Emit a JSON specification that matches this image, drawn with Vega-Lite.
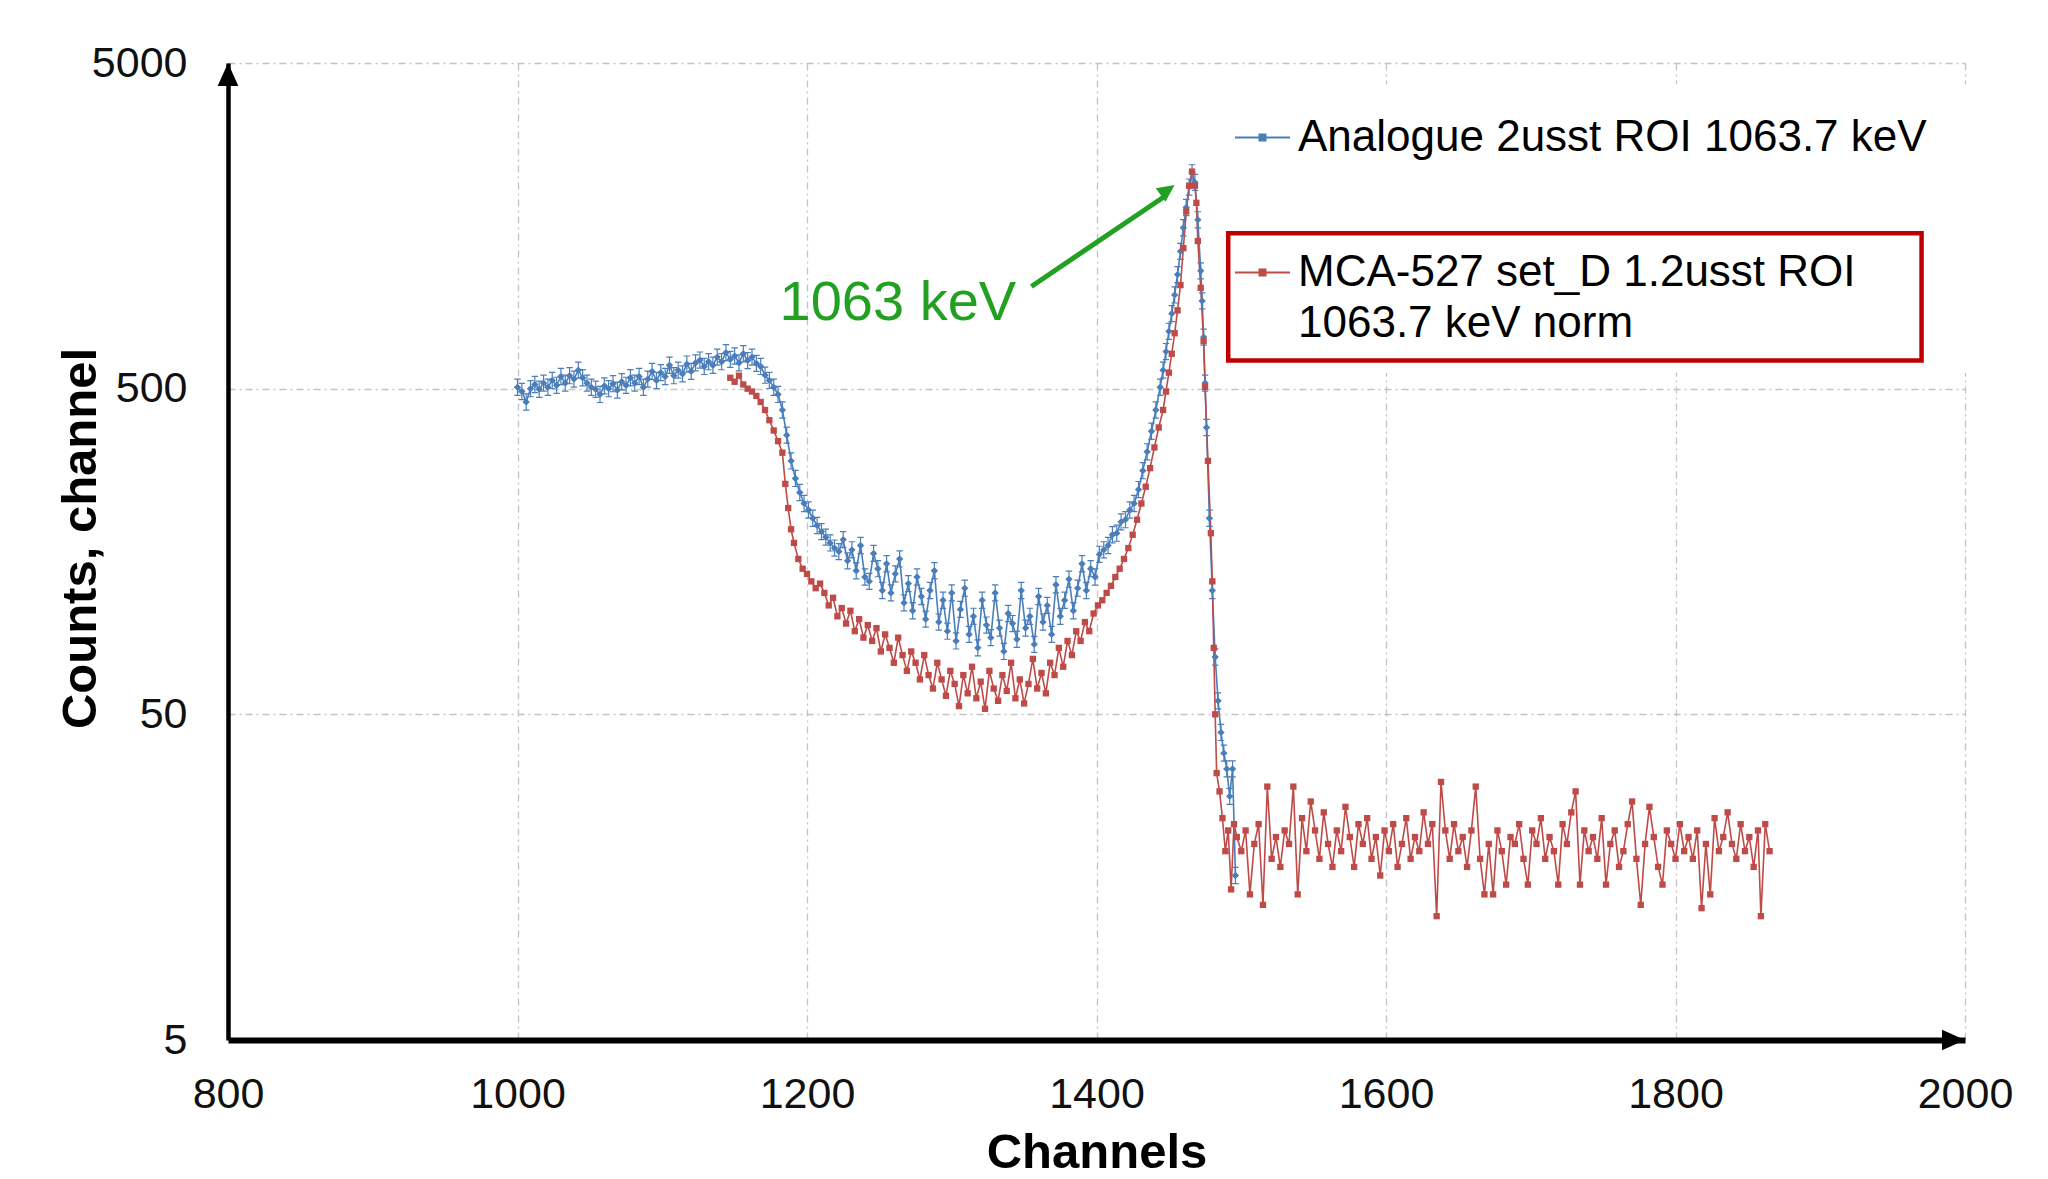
{
"$schema": "https://vega.github.io/schema/vega-lite/v6.json",
"width": 1737, "height": 977,
"autosize": {"type": "none"},
"padding": {"left": 228, "top": 63, "right": 83, "bottom": 139},
"background": "white",
"config": {
  "view": {"stroke": null},
  "font": "Liberation Sans",
  "axis": {"grid": true, "domainColor": "black", "ticks": false, "tickSize": 0, "labelFontSize": 43, "labelColor": "#111111", "labelFont": "Liberation Sans", "titleFont": "Liberation Sans", "titleFontSize": 49, "titleFontWeight": "bold", "titleColor": "black", "gridColor": "#C4C4C4", "gridDash": [7, 4, 2, 4], "gridWidth": 1.3, "labelOverlap": false, "labelFlush": false, "labelBound": false}
},
"datasets": {
  "spectra": [
{"series":"Analogue 2usst ROI 1063.7 keV","channel":1000,"counts":505},
{"series":"Analogue 2usst ROI 1063.7 keV","channel":1003,"counts":490},
{"series":"Analogue 2usst ROI 1063.7 keV","channel":1006,"counts":455},
{"series":"Analogue 2usst ROI 1063.7 keV","channel":1009,"counts":500},
{"series":"Analogue 2usst ROI 1063.7 keV","channel":1012,"counts":515},
{"series":"Analogue 2usst ROI 1063.7 keV","channel":1015,"counts":498},
{"series":"Analogue 2usst ROI 1063.7 keV","channel":1018,"counts":520},
{"series":"Analogue 2usst ROI 1063.7 keV","channel":1021,"counts":505},
{"series":"Analogue 2usst ROI 1063.7 keV","channel":1024,"counts":530},
{"series":"Analogue 2usst ROI 1063.7 keV","channel":1027,"counts":512},
{"series":"Analogue 2usst ROI 1063.7 keV","channel":1030,"counts":545},
{"series":"Analogue 2usst ROI 1063.7 keV","channel":1033,"counts":520},
{"series":"Analogue 2usst ROI 1063.7 keV","channel":1036,"counts":548},
{"series":"Analogue 2usst ROI 1063.7 keV","channel":1039,"counts":535},
{"series":"Analogue 2usst ROI 1063.7 keV","channel":1042,"counts":570},
{"series":"Analogue 2usst ROI 1063.7 keV","channel":1045,"counts":540},
{"series":"Analogue 2usst ROI 1063.7 keV","channel":1048,"counts":520},
{"series":"Analogue 2usst ROI 1063.7 keV","channel":1051,"counts":505},
{"series":"Analogue 2usst ROI 1063.7 keV","channel":1054,"counts":498},
{"series":"Analogue 2usst ROI 1063.7 keV","channel":1057,"counts":480},
{"series":"Analogue 2usst ROI 1063.7 keV","channel":1060,"counts":510},
{"series":"Analogue 2usst ROI 1063.7 keV","channel":1063,"counts":500},
{"series":"Analogue 2usst ROI 1063.7 keV","channel":1066,"counts":518},
{"series":"Analogue 2usst ROI 1063.7 keV","channel":1069,"counts":495},
{"series":"Analogue 2usst ROI 1063.7 keV","channel":1072,"counts":525},
{"series":"Analogue 2usst ROI 1063.7 keV","channel":1075,"counts":512},
{"series":"Analogue 2usst ROI 1063.7 keV","channel":1078,"counts":540},
{"series":"Analogue 2usst ROI 1063.7 keV","channel":1081,"counts":520},
{"series":"Analogue 2usst ROI 1063.7 keV","channel":1084,"counts":545},
{"series":"Analogue 2usst ROI 1063.7 keV","channel":1087,"counts":505},
{"series":"Analogue 2usst ROI 1063.7 keV","channel":1090,"counts":535},
{"series":"Analogue 2usst ROI 1063.7 keV","channel":1093,"counts":565},
{"series":"Analogue 2usst ROI 1063.7 keV","channel":1096,"counts":530},
{"series":"Analogue 2usst ROI 1063.7 keV","channel":1099,"counts":560},
{"series":"Analogue 2usst ROI 1063.7 keV","channel":1102,"counts":545},
{"series":"Analogue 2usst ROI 1063.7 keV","channel":1105,"counts":590},
{"series":"Analogue 2usst ROI 1063.7 keV","channel":1108,"counts":548},
{"series":"Analogue 2usst ROI 1063.7 keV","channel":1111,"counts":570},
{"series":"Analogue 2usst ROI 1063.7 keV","channel":1114,"counts":555},
{"series":"Analogue 2usst ROI 1063.7 keV","channel":1117,"counts":595},
{"series":"Analogue 2usst ROI 1063.7 keV","channel":1120,"counts":565},
{"series":"Analogue 2usst ROI 1063.7 keV","channel":1123,"counts":600},
{"series":"Analogue 2usst ROI 1063.7 keV","channel":1126,"counts":612},
{"series":"Analogue 2usst ROI 1063.7 keV","channel":1129,"counts":585},
{"series":"Analogue 2usst ROI 1063.7 keV","channel":1132,"counts":605},
{"series":"Analogue 2usst ROI 1063.7 keV","channel":1135,"counts":590},
{"series":"Analogue 2usst ROI 1063.7 keV","channel":1138,"counts":625},
{"series":"Analogue 2usst ROI 1063.7 keV","channel":1141,"counts":605},
{"series":"Analogue 2usst ROI 1063.7 keV","channel":1144,"counts":645},
{"series":"Analogue 2usst ROI 1063.7 keV","channel":1147,"counts":615},
{"series":"Analogue 2usst ROI 1063.7 keV","channel":1150,"counts":630},
{"series":"Analogue 2usst ROI 1063.7 keV","channel":1153,"counts":600},
{"series":"Analogue 2usst ROI 1063.7 keV","channel":1156,"counts":640},
{"series":"Analogue 2usst ROI 1063.7 keV","channel":1159,"counts":610},
{"series":"Analogue 2usst ROI 1063.7 keV","channel":1162,"counts":625},
{"series":"Analogue 2usst ROI 1063.7 keV","channel":1165,"counts":598},
{"series":"Analogue 2usst ROI 1063.7 keV","channel":1168,"counts":585},
{"series":"Analogue 2usst ROI 1063.7 keV","channel":1171,"counts":550},
{"series":"Analogue 2usst ROI 1063.7 keV","channel":1174,"counts":530},
{"series":"Analogue 2usst ROI 1063.7 keV","channel":1177,"counts":505},
{"series":"Analogue 2usst ROI 1063.7 keV","channel":1180,"counts":480},
{"series":"Analogue 2usst ROI 1063.7 keV","channel":1183,"counts":430},
{"series":"Analogue 2usst ROI 1063.7 keV","channel":1186,"counts":360},
{"series":"Analogue 2usst ROI 1063.7 keV","channel":1189,"counts":300},
{"series":"Analogue 2usst ROI 1063.7 keV","channel":1192,"counts":265},
{"series":"Analogue 2usst ROI 1063.7 keV","channel":1195,"counts":240},
{"series":"Analogue 2usst ROI 1063.7 keV","channel":1198,"counts":222},
{"series":"Analogue 2usst ROI 1063.7 keV","channel":1201,"counts":212},
{"series":"Analogue 2usst ROI 1063.7 keV","channel":1204,"counts":200},
{"series":"Analogue 2usst ROI 1063.7 keV","channel":1207,"counts":190},
{"series":"Analogue 2usst ROI 1063.7 keV","channel":1210,"counts":182},
{"series":"Analogue 2usst ROI 1063.7 keV","channel":1213,"counts":175},
{"series":"Analogue 2usst ROI 1063.7 keV","channel":1216,"counts":168},
{"series":"Analogue 2usst ROI 1063.7 keV","channel":1219,"counts":162},
{"series":"Analogue 2usst ROI 1063.7 keV","channel":1222,"counts":158},
{"series":"Analogue 2usst ROI 1063.7 keV","channel":1225,"counts":172},
{"series":"Analogue 2usst ROI 1063.7 keV","channel":1228,"counts":148},
{"series":"Analogue 2usst ROI 1063.7 keV","channel":1231,"counts":160},
{"series":"Analogue 2usst ROI 1063.7 keV","channel":1234,"counts":138},
{"series":"Analogue 2usst ROI 1063.7 keV","channel":1237,"counts":165},
{"series":"Analogue 2usst ROI 1063.7 keV","channel":1240,"counts":132},
{"series":"Analogue 2usst ROI 1063.7 keV","channel":1243,"counts":128},
{"series":"Analogue 2usst ROI 1063.7 keV","channel":1246,"counts":156},
{"series":"Analogue 2usst ROI 1063.7 keV","channel":1249,"counts":140},
{"series":"Analogue 2usst ROI 1063.7 keV","channel":1252,"counts":120},
{"series":"Analogue 2usst ROI 1063.7 keV","channel":1255,"counts":145},
{"series":"Analogue 2usst ROI 1063.7 keV","channel":1258,"counts":118},
{"series":"Analogue 2usst ROI 1063.7 keV","channel":1261,"counts":135},
{"series":"Analogue 2usst ROI 1063.7 keV","channel":1264,"counts":150},
{"series":"Analogue 2usst ROI 1063.7 keV","channel":1267,"counts":110},
{"series":"Analogue 2usst ROI 1063.7 keV","channel":1270,"counts":126},
{"series":"Analogue 2usst ROI 1063.7 keV","channel":1273,"counts":104},
{"series":"Analogue 2usst ROI 1063.7 keV","channel":1276,"counts":132},
{"series":"Analogue 2usst ROI 1063.7 keV","channel":1279,"counts":115},
{"series":"Analogue 2usst ROI 1063.7 keV","channel":1282,"counts":98},
{"series":"Analogue 2usst ROI 1063.7 keV","channel":1285,"counts":120},
{"series":"Analogue 2usst ROI 1063.7 keV","channel":1288,"counts":138},
{"series":"Analogue 2usst ROI 1063.7 keV","channel":1291,"counts":96},
{"series":"Analogue 2usst ROI 1063.7 keV","channel":1294,"counts":112},
{"series":"Analogue 2usst ROI 1063.7 keV","channel":1297,"counts":90},
{"series":"Analogue 2usst ROI 1063.7 keV","channel":1300,"counts":118},
{"series":"Analogue 2usst ROI 1063.7 keV","channel":1303,"counts":84},
{"series":"Analogue 2usst ROI 1063.7 keV","channel":1306,"counts":105},
{"series":"Analogue 2usst ROI 1063.7 keV","channel":1309,"counts":122},
{"series":"Analogue 2usst ROI 1063.7 keV","channel":1312,"counts":88},
{"series":"Analogue 2usst ROI 1063.7 keV","channel":1315,"counts":100},
{"series":"Analogue 2usst ROI 1063.7 keV","channel":1318,"counts":80},
{"series":"Analogue 2usst ROI 1063.7 keV","channel":1321,"counts":112},
{"series":"Analogue 2usst ROI 1063.7 keV","channel":1324,"counts":94},
{"series":"Analogue 2usst ROI 1063.7 keV","channel":1327,"counts":86},
{"series":"Analogue 2usst ROI 1063.7 keV","channel":1330,"counts":118},
{"series":"Analogue 2usst ROI 1063.7 keV","channel":1333,"counts":92},
{"series":"Analogue 2usst ROI 1063.7 keV","channel":1336,"counts":78},
{"series":"Analogue 2usst ROI 1063.7 keV","channel":1339,"counts":102},
{"series":"Analogue 2usst ROI 1063.7 keV","channel":1342,"counts":95},
{"series":"Analogue 2usst ROI 1063.7 keV","channel":1345,"counts":85},
{"series":"Analogue 2usst ROI 1063.7 keV","channel":1348,"counts":120},
{"series":"Analogue 2usst ROI 1063.7 keV","channel":1351,"counts":92},
{"series":"Analogue 2usst ROI 1063.7 keV","channel":1354,"counts":100},
{"series":"Analogue 2usst ROI 1063.7 keV","channel":1357,"counts":82},
{"series":"Analogue 2usst ROI 1063.7 keV","channel":1360,"counts":115},
{"series":"Analogue 2usst ROI 1063.7 keV","channel":1363,"counts":96},
{"series":"Analogue 2usst ROI 1063.7 keV","channel":1366,"counts":108},
{"series":"Analogue 2usst ROI 1063.7 keV","channel":1369,"counts":88},
{"series":"Analogue 2usst ROI 1063.7 keV","channel":1372,"counts":125},
{"series":"Analogue 2usst ROI 1063.7 keV","channel":1375,"counts":100},
{"series":"Analogue 2usst ROI 1063.7 keV","channel":1378,"counts":112},
{"series":"Analogue 2usst ROI 1063.7 keV","channel":1381,"counts":130},
{"series":"Analogue 2usst ROI 1063.7 keV","channel":1384,"counts":104},
{"series":"Analogue 2usst ROI 1063.7 keV","channel":1387,"counts":122},
{"series":"Analogue 2usst ROI 1063.7 keV","channel":1390,"counts":145},
{"series":"Analogue 2usst ROI 1063.7 keV","channel":1393,"counts":120},
{"series":"Analogue 2usst ROI 1063.7 keV","channel":1396,"counts":140},
{"series":"Analogue 2usst ROI 1063.7 keV","channel":1399,"counts":132},
{"series":"Analogue 2usst ROI 1063.7 keV","channel":1402,"counts":155},
{"series":"Analogue 2usst ROI 1063.7 keV","channel":1405,"counts":160},
{"series":"Analogue 2usst ROI 1063.7 keV","channel":1408,"counts":165},
{"series":"Analogue 2usst ROI 1063.7 keV","channel":1411,"counts":178},
{"series":"Analogue 2usst ROI 1063.7 keV","channel":1414,"counts":180},
{"series":"Analogue 2usst ROI 1063.7 keV","channel":1417,"counts":195},
{"series":"Analogue 2usst ROI 1063.7 keV","channel":1420,"counts":198},
{"series":"Analogue 2usst ROI 1063.7 keV","channel":1423,"counts":212},
{"series":"Analogue 2usst ROI 1063.7 keV","channel":1426,"counts":222},
{"series":"Analogue 2usst ROI 1063.7 keV","channel":1429,"counts":245},
{"series":"Analogue 2usst ROI 1063.7 keV","channel":1432,"counts":280},
{"series":"Analogue 2usst ROI 1063.7 keV","channel":1435,"counts":320},
{"series":"Analogue 2usst ROI 1063.7 keV","channel":1438,"counts":370},
{"series":"Analogue 2usst ROI 1063.7 keV","channel":1441,"counts":430},
{"series":"Analogue 2usst ROI 1063.7 keV","channel":1444,"counts":505},
{"series":"Analogue 2usst ROI 1063.7 keV","channel":1446,"counts":570},
{"series":"Analogue 2usst ROI 1063.7 keV","channel":1448,"counts":650},
{"series":"Analogue 2usst ROI 1063.7 keV","channel":1450,"counts":750},
{"series":"Analogue 2usst ROI 1063.7 keV","channel":1452,"counts":850},
{"series":"Analogue 2usst ROI 1063.7 keV","channel":1454,"counts":970},
{"series":"Analogue 2usst ROI 1063.7 keV","channel":1456,"counts":1120},
{"series":"Analogue 2usst ROI 1063.7 keV","channel":1458,"counts":1320},
{"series":"Analogue 2usst ROI 1063.7 keV","channel":1460,"counts":1560},
{"series":"Analogue 2usst ROI 1063.7 keV","channel":1462,"counts":1800},
{"series":"Analogue 2usst ROI 1063.7 keV","channel":1464,"counts":2080},
{"series":"Analogue 2usst ROI 1063.7 keV","channel":1466,"counts":2300},
{"series":"Analogue 2usst ROI 1063.7 keV","channel":1468,"counts":2150},
{"series":"Analogue 2usst ROI 1063.7 keV","channel":1470,"counts":1650},
{"series":"Analogue 2usst ROI 1063.7 keV","channel":1472,"counts":1150},
{"series":"Analogue 2usst ROI 1063.7 keV","channel":1473,"counts":930},
{"series":"Analogue 2usst ROI 1063.7 keV","channel":1474,"counts":720},
{"series":"Analogue 2usst ROI 1063.7 keV","channel":1475,"counts":520},
{"series":"Analogue 2usst ROI 1063.7 keV","channel":1476,"counts":380},
{"series":"Analogue 2usst ROI 1063.7 keV","channel":1478,"counts":200},
{"series":"Analogue 2usst ROI 1063.7 keV","channel":1480,"counts":120},
{"series":"Analogue 2usst ROI 1063.7 keV","channel":1482,"counts":75},
{"series":"Analogue 2usst ROI 1063.7 keV","channel":1484,"counts":55},
{"series":"Analogue 2usst ROI 1063.7 keV","channel":1486,"counts":44},
{"series":"Analogue 2usst ROI 1063.7 keV","channel":1488,"counts":38},
{"series":"Analogue 2usst ROI 1063.7 keV","channel":1490,"counts":34},
{"series":"Analogue 2usst ROI 1063.7 keV","channel":1492,"counts":28},
{"series":"Analogue 2usst ROI 1063.7 keV","channel":1494,"counts":34},
{"series":"Analogue 2usst ROI 1063.7 keV","channel":1496,"counts":16},
{"series":"MCA-527 set_D 1.2usst ROI 1063.7 keV norm","channel":1147,"counts":540},
{"series":"MCA-527 set_D 1.2usst ROI 1063.7 keV norm","channel":1150,"counts":525},
{"series":"MCA-527 set_D 1.2usst ROI 1063.7 keV norm","channel":1153,"counts":548},
{"series":"MCA-527 set_D 1.2usst ROI 1063.7 keV norm","channel":1156,"counts":515},
{"series":"MCA-527 set_D 1.2usst ROI 1063.7 keV norm","channel":1159,"counts":500},
{"series":"MCA-527 set_D 1.2usst ROI 1063.7 keV norm","channel":1162,"counts":490},
{"series":"MCA-527 set_D 1.2usst ROI 1063.7 keV norm","channel":1165,"counts":475},
{"series":"MCA-527 set_D 1.2usst ROI 1063.7 keV norm","channel":1168,"counts":455},
{"series":"MCA-527 set_D 1.2usst ROI 1063.7 keV norm","channel":1171,"counts":430},
{"series":"MCA-527 set_D 1.2usst ROI 1063.7 keV norm","channel":1174,"counts":400},
{"series":"MCA-527 set_D 1.2usst ROI 1063.7 keV norm","channel":1177,"counts":372},
{"series":"MCA-527 set_D 1.2usst ROI 1063.7 keV norm","channel":1180,"counts":345},
{"series":"MCA-527 set_D 1.2usst ROI 1063.7 keV norm","channel":1183,"counts":318},
{"series":"MCA-527 set_D 1.2usst ROI 1063.7 keV norm","channel":1185,"counts":255},
{"series":"MCA-527 set_D 1.2usst ROI 1063.7 keV norm","channel":1187,"counts":215},
{"series":"MCA-527 set_D 1.2usst ROI 1063.7 keV norm","channel":1189,"counts":185},
{"series":"MCA-527 set_D 1.2usst ROI 1063.7 keV norm","channel":1191,"counts":168},
{"series":"MCA-527 set_D 1.2usst ROI 1063.7 keV norm","channel":1194,"counts":150},
{"series":"MCA-527 set_D 1.2usst ROI 1063.7 keV norm","channel":1197,"counts":140},
{"series":"MCA-527 set_D 1.2usst ROI 1063.7 keV norm","channel":1200,"counts":135},
{"series":"MCA-527 set_D 1.2usst ROI 1063.7 keV norm","channel":1203,"counts":128},
{"series":"MCA-527 set_D 1.2usst ROI 1063.7 keV norm","channel":1206,"counts":122},
{"series":"MCA-527 set_D 1.2usst ROI 1063.7 keV norm","channel":1209,"counts":126},
{"series":"MCA-527 set_D 1.2usst ROI 1063.7 keV norm","channel":1212,"counts":118},
{"series":"MCA-527 set_D 1.2usst ROI 1063.7 keV norm","channel":1215,"counts":108},
{"series":"MCA-527 set_D 1.2usst ROI 1063.7 keV norm","channel":1218,"counts":114},
{"series":"MCA-527 set_D 1.2usst ROI 1063.7 keV norm","channel":1221,"counts":100},
{"series":"MCA-527 set_D 1.2usst ROI 1063.7 keV norm","channel":1224,"counts":106},
{"series":"MCA-527 set_D 1.2usst ROI 1063.7 keV norm","channel":1227,"counts":95},
{"series":"MCA-527 set_D 1.2usst ROI 1063.7 keV norm","channel":1230,"counts":104},
{"series":"MCA-527 set_D 1.2usst ROI 1063.7 keV norm","channel":1233,"counts":90},
{"series":"MCA-527 set_D 1.2usst ROI 1063.7 keV norm","channel":1236,"counts":98},
{"series":"MCA-527 set_D 1.2usst ROI 1063.7 keV norm","channel":1239,"counts":86},
{"series":"MCA-527 set_D 1.2usst ROI 1063.7 keV norm","channel":1242,"counts":94},
{"series":"MCA-527 set_D 1.2usst ROI 1063.7 keV norm","channel":1245,"counts":84},
{"series":"MCA-527 set_D 1.2usst ROI 1063.7 keV norm","channel":1248,"counts":92},
{"series":"MCA-527 set_D 1.2usst ROI 1063.7 keV norm","channel":1251,"counts":78},
{"series":"MCA-527 set_D 1.2usst ROI 1063.7 keV norm","channel":1254,"counts":88},
{"series":"MCA-527 set_D 1.2usst ROI 1063.7 keV norm","channel":1257,"counts":80},
{"series":"MCA-527 set_D 1.2usst ROI 1063.7 keV norm","channel":1260,"counts":72},
{"series":"MCA-527 set_D 1.2usst ROI 1063.7 keV norm","channel":1263,"counts":86},
{"series":"MCA-527 set_D 1.2usst ROI 1063.7 keV norm","channel":1266,"counts":76},
{"series":"MCA-527 set_D 1.2usst ROI 1063.7 keV norm","channel":1269,"counts":68},
{"series":"MCA-527 set_D 1.2usst ROI 1063.7 keV norm","channel":1272,"counts":78},
{"series":"MCA-527 set_D 1.2usst ROI 1063.7 keV norm","channel":1275,"counts":72},
{"series":"MCA-527 set_D 1.2usst ROI 1063.7 keV norm","channel":1278,"counts":64},
{"series":"MCA-527 set_D 1.2usst ROI 1063.7 keV norm","channel":1281,"counts":76},
{"series":"MCA-527 set_D 1.2usst ROI 1063.7 keV norm","channel":1284,"counts":66},
{"series":"MCA-527 set_D 1.2usst ROI 1063.7 keV norm","channel":1287,"counts":60},
{"series":"MCA-527 set_D 1.2usst ROI 1063.7 keV norm","channel":1290,"counts":72},
{"series":"MCA-527 set_D 1.2usst ROI 1063.7 keV norm","channel":1293,"counts":64},
{"series":"MCA-527 set_D 1.2usst ROI 1063.7 keV norm","channel":1296,"counts":57},
{"series":"MCA-527 set_D 1.2usst ROI 1063.7 keV norm","channel":1299,"counts":68},
{"series":"MCA-527 set_D 1.2usst ROI 1063.7 keV norm","channel":1302,"counts":62},
{"series":"MCA-527 set_D 1.2usst ROI 1063.7 keV norm","channel":1305,"counts":53},
{"series":"MCA-527 set_D 1.2usst ROI 1063.7 keV norm","channel":1308,"counts":66},
{"series":"MCA-527 set_D 1.2usst ROI 1063.7 keV norm","channel":1311,"counts":58},
{"series":"MCA-527 set_D 1.2usst ROI 1063.7 keV norm","channel":1314,"counts":70},
{"series":"MCA-527 set_D 1.2usst ROI 1063.7 keV norm","channel":1317,"counts":56},
{"series":"MCA-527 set_D 1.2usst ROI 1063.7 keV norm","channel":1320,"counts":63},
{"series":"MCA-527 set_D 1.2usst ROI 1063.7 keV norm","channel":1323,"counts":52},
{"series":"MCA-527 set_D 1.2usst ROI 1063.7 keV norm","channel":1326,"counts":68},
{"series":"MCA-527 set_D 1.2usst ROI 1063.7 keV norm","channel":1329,"counts":60},
{"series":"MCA-527 set_D 1.2usst ROI 1063.7 keV norm","channel":1332,"counts":55},
{"series":"MCA-527 set_D 1.2usst ROI 1063.7 keV norm","channel":1335,"counts":66},
{"series":"MCA-527 set_D 1.2usst ROI 1063.7 keV norm","channel":1338,"counts":59},
{"series":"MCA-527 set_D 1.2usst ROI 1063.7 keV norm","channel":1341,"counts":72},
{"series":"MCA-527 set_D 1.2usst ROI 1063.7 keV norm","channel":1344,"counts":56},
{"series":"MCA-527 set_D 1.2usst ROI 1063.7 keV norm","channel":1347,"counts":64},
{"series":"MCA-527 set_D 1.2usst ROI 1063.7 keV norm","channel":1350,"counts":54},
{"series":"MCA-527 set_D 1.2usst ROI 1063.7 keV norm","channel":1353,"counts":62},
{"series":"MCA-527 set_D 1.2usst ROI 1063.7 keV norm","channel":1356,"counts":74},
{"series":"MCA-527 set_D 1.2usst ROI 1063.7 keV norm","channel":1359,"counts":60},
{"series":"MCA-527 set_D 1.2usst ROI 1063.7 keV norm","channel":1362,"counts":67},
{"series":"MCA-527 set_D 1.2usst ROI 1063.7 keV norm","channel":1365,"counts":58},
{"series":"MCA-527 set_D 1.2usst ROI 1063.7 keV norm","channel":1368,"counts":72},
{"series":"MCA-527 set_D 1.2usst ROI 1063.7 keV norm","channel":1371,"counts":66},
{"series":"MCA-527 set_D 1.2usst ROI 1063.7 keV norm","channel":1374,"counts":80},
{"series":"MCA-527 set_D 1.2usst ROI 1063.7 keV norm","channel":1377,"counts":70},
{"series":"MCA-527 set_D 1.2usst ROI 1063.7 keV norm","channel":1380,"counts":84},
{"series":"MCA-527 set_D 1.2usst ROI 1063.7 keV norm","channel":1383,"counts":76},
{"series":"MCA-527 set_D 1.2usst ROI 1063.7 keV norm","channel":1386,"counts":90},
{"series":"MCA-527 set_D 1.2usst ROI 1063.7 keV norm","channel":1389,"counts":84},
{"series":"MCA-527 set_D 1.2usst ROI 1063.7 keV norm","channel":1392,"counts":96},
{"series":"MCA-527 set_D 1.2usst ROI 1063.7 keV norm","channel":1395,"counts":90},
{"series":"MCA-527 set_D 1.2usst ROI 1063.7 keV norm","channel":1398,"counts":102},
{"series":"MCA-527 set_D 1.2usst ROI 1063.7 keV norm","channel":1401,"counts":108},
{"series":"MCA-527 set_D 1.2usst ROI 1063.7 keV norm","channel":1404,"counts":112},
{"series":"MCA-527 set_D 1.2usst ROI 1063.7 keV norm","channel":1407,"counts":118},
{"series":"MCA-527 set_D 1.2usst ROI 1063.7 keV norm","channel":1410,"counts":124},
{"series":"MCA-527 set_D 1.2usst ROI 1063.7 keV norm","channel":1413,"counts":132},
{"series":"MCA-527 set_D 1.2usst ROI 1063.7 keV norm","channel":1416,"counts":140},
{"series":"MCA-527 set_D 1.2usst ROI 1063.7 keV norm","channel":1419,"counts":150},
{"series":"MCA-527 set_D 1.2usst ROI 1063.7 keV norm","channel":1422,"counts":162},
{"series":"MCA-527 set_D 1.2usst ROI 1063.7 keV norm","channel":1425,"counts":178},
{"series":"MCA-527 set_D 1.2usst ROI 1063.7 keV norm","channel":1428,"counts":198},
{"series":"MCA-527 set_D 1.2usst ROI 1063.7 keV norm","channel":1431,"counts":222},
{"series":"MCA-527 set_D 1.2usst ROI 1063.7 keV norm","channel":1434,"counts":250},
{"series":"MCA-527 set_D 1.2usst ROI 1063.7 keV norm","channel":1437,"counts":285},
{"series":"MCA-527 set_D 1.2usst ROI 1063.7 keV norm","channel":1440,"counts":330},
{"series":"MCA-527 set_D 1.2usst ROI 1063.7 keV norm","channel":1443,"counts":380},
{"series":"MCA-527 set_D 1.2usst ROI 1063.7 keV norm","channel":1446,"counts":430},
{"series":"MCA-527 set_D 1.2usst ROI 1063.7 keV norm","channel":1448,"counts":490},
{"series":"MCA-527 set_D 1.2usst ROI 1063.7 keV norm","channel":1450,"counts":560},
{"series":"MCA-527 set_D 1.2usst ROI 1063.7 keV norm","channel":1452,"counts":640},
{"series":"MCA-527 set_D 1.2usst ROI 1063.7 keV norm","channel":1454,"counts":740},
{"series":"MCA-527 set_D 1.2usst ROI 1063.7 keV norm","channel":1456,"counts":870},
{"series":"MCA-527 set_D 1.2usst ROI 1063.7 keV norm","channel":1458,"counts":1040},
{"series":"MCA-527 set_D 1.2usst ROI 1063.7 keV norm","channel":1460,"counts":1350},
{"series":"MCA-527 set_D 1.2usst ROI 1063.7 keV norm","channel":1462,"counts":1750},
{"series":"MCA-527 set_D 1.2usst ROI 1063.7 keV norm","channel":1464,"counts":2100},
{"series":"MCA-527 set_D 1.2usst ROI 1063.7 keV norm","channel":1466,"counts":2320},
{"series":"MCA-527 set_D 1.2usst ROI 1063.7 keV norm","channel":1468,"counts":2100},
{"series":"MCA-527 set_D 1.2usst ROI 1063.7 keV norm","channel":1469,"counts":1860},
{"series":"MCA-527 set_D 1.2usst ROI 1063.7 keV norm","channel":1470,"counts":1420},
{"series":"MCA-527 set_D 1.2usst ROI 1063.7 keV norm","channel":1472,"counts":1020},
{"series":"MCA-527 set_D 1.2usst ROI 1063.7 keV norm","channel":1474,"counts":700},
{"series":"MCA-527 set_D 1.2usst ROI 1063.7 keV norm","channel":1475,"counts":506},
{"series":"MCA-527 set_D 1.2usst ROI 1063.7 keV norm","channel":1477,"counts":300},
{"series":"MCA-527 set_D 1.2usst ROI 1063.7 keV norm","channel":1479,"counts":180},
{"series":"MCA-527 set_D 1.2usst ROI 1063.7 keV norm","channel":1480,"counts":128},
{"series":"MCA-527 set_D 1.2usst ROI 1063.7 keV norm","channel":1481,"counts":80},
{"series":"MCA-527 set_D 1.2usst ROI 1063.7 keV norm","channel":1482,"counts":50},
{"series":"MCA-527 set_D 1.2usst ROI 1063.7 keV norm","channel":1483,"counts":33},
{"series":"MCA-527 set_D 1.2usst ROI 1063.7 keV norm","channel":1485,"counts":29},
{"series":"MCA-527 set_D 1.2usst ROI 1063.7 keV norm","channel":1487,"counts":24},
{"series":"MCA-527 set_D 1.2usst ROI 1063.7 keV norm","channel":1489,"counts":19},
{"series":"MCA-527 set_D 1.2usst ROI 1063.7 keV norm","channel":1491,"counts":22},
{"series":"MCA-527 set_D 1.2usst ROI 1063.7 keV norm","channel":1493,"counts":14.5},
{"series":"MCA-527 set_D 1.2usst ROI 1063.7 keV norm","channel":1495,"counts":23},
{"series":"MCA-527 set_D 1.2usst ROI 1063.7 keV norm","channel":1497,"counts":21},
{"series":"MCA-527 set_D 1.2usst ROI 1063.7 keV norm","channel":1500,"counts":19},
{"series":"MCA-527 set_D 1.2usst ROI 1063.7 keV norm","channel":1503,"counts":22},
{"series":"MCA-527 set_D 1.2usst ROI 1063.7 keV norm","channel":1506,"counts":14},
{"series":"MCA-527 set_D 1.2usst ROI 1063.7 keV norm","channel":1509,"counts":20},
{"series":"MCA-527 set_D 1.2usst ROI 1063.7 keV norm","channel":1512,"counts":23},
{"series":"MCA-527 set_D 1.2usst ROI 1063.7 keV norm","channel":1515,"counts":13},
{"series":"MCA-527 set_D 1.2usst ROI 1063.7 keV norm","channel":1518,"counts":30},
{"series":"MCA-527 set_D 1.2usst ROI 1063.7 keV norm","channel":1521,"counts":18},
{"series":"MCA-527 set_D 1.2usst ROI 1063.7 keV norm","channel":1524,"counts":21},
{"series":"MCA-527 set_D 1.2usst ROI 1063.7 keV norm","channel":1527,"counts":17},
{"series":"MCA-527 set_D 1.2usst ROI 1063.7 keV norm","channel":1530,"counts":22},
{"series":"MCA-527 set_D 1.2usst ROI 1063.7 keV norm","channel":1533,"counts":20},
{"series":"MCA-527 set_D 1.2usst ROI 1063.7 keV norm","channel":1536,"counts":30},
{"series":"MCA-527 set_D 1.2usst ROI 1063.7 keV norm","channel":1539,"counts":14},
{"series":"MCA-527 set_D 1.2usst ROI 1063.7 keV norm","channel":1542,"counts":24},
{"series":"MCA-527 set_D 1.2usst ROI 1063.7 keV norm","channel":1545,"counts":19},
{"series":"MCA-527 set_D 1.2usst ROI 1063.7 keV norm","channel":1548,"counts":27},
{"series":"MCA-527 set_D 1.2usst ROI 1063.7 keV norm","channel":1551,"counts":22},
{"series":"MCA-527 set_D 1.2usst ROI 1063.7 keV norm","channel":1554,"counts":18},
{"series":"MCA-527 set_D 1.2usst ROI 1063.7 keV norm","channel":1557,"counts":25},
{"series":"MCA-527 set_D 1.2usst ROI 1063.7 keV norm","channel":1560,"counts":20},
{"series":"MCA-527 set_D 1.2usst ROI 1063.7 keV norm","channel":1563,"counts":17},
{"series":"MCA-527 set_D 1.2usst ROI 1063.7 keV norm","channel":1566,"counts":22},
{"series":"MCA-527 set_D 1.2usst ROI 1063.7 keV norm","channel":1569,"counts":19},
{"series":"MCA-527 set_D 1.2usst ROI 1063.7 keV norm","channel":1572,"counts":26},
{"series":"MCA-527 set_D 1.2usst ROI 1063.7 keV norm","channel":1575,"counts":21},
{"series":"MCA-527 set_D 1.2usst ROI 1063.7 keV norm","channel":1578,"counts":17},
{"series":"MCA-527 set_D 1.2usst ROI 1063.7 keV norm","channel":1581,"counts":23},
{"series":"MCA-527 set_D 1.2usst ROI 1063.7 keV norm","channel":1584,"counts":20},
{"series":"MCA-527 set_D 1.2usst ROI 1063.7 keV norm","channel":1587,"counts":24},
{"series":"MCA-527 set_D 1.2usst ROI 1063.7 keV norm","channel":1590,"counts":18},
{"series":"MCA-527 set_D 1.2usst ROI 1063.7 keV norm","channel":1593,"counts":21},
{"series":"MCA-527 set_D 1.2usst ROI 1063.7 keV norm","channel":1596,"counts":16},
{"series":"MCA-527 set_D 1.2usst ROI 1063.7 keV norm","channel":1599,"counts":22},
{"series":"MCA-527 set_D 1.2usst ROI 1063.7 keV norm","channel":1602,"counts":19},
{"series":"MCA-527 set_D 1.2usst ROI 1063.7 keV norm","channel":1605,"counts":23},
{"series":"MCA-527 set_D 1.2usst ROI 1063.7 keV norm","channel":1608,"counts":17},
{"series":"MCA-527 set_D 1.2usst ROI 1063.7 keV norm","channel":1611,"counts":20},
{"series":"MCA-527 set_D 1.2usst ROI 1063.7 keV norm","channel":1614,"counts":24},
{"series":"MCA-527 set_D 1.2usst ROI 1063.7 keV norm","channel":1617,"counts":18},
{"series":"MCA-527 set_D 1.2usst ROI 1063.7 keV norm","channel":1620,"counts":21},
{"series":"MCA-527 set_D 1.2usst ROI 1063.7 keV norm","channel":1623,"counts":19},
{"series":"MCA-527 set_D 1.2usst ROI 1063.7 keV norm","channel":1626,"counts":25},
{"series":"MCA-527 set_D 1.2usst ROI 1063.7 keV norm","channel":1629,"counts":20},
{"series":"MCA-527 set_D 1.2usst ROI 1063.7 keV norm","channel":1632,"counts":23},
{"series":"MCA-527 set_D 1.2usst ROI 1063.7 keV norm","channel":1635,"counts":12},
{"series":"MCA-527 set_D 1.2usst ROI 1063.7 keV norm","channel":1638,"counts":31},
{"series":"MCA-527 set_D 1.2usst ROI 1063.7 keV norm","channel":1641,"counts":22},
{"series":"MCA-527 set_D 1.2usst ROI 1063.7 keV norm","channel":1644,"counts":18},
{"series":"MCA-527 set_D 1.2usst ROI 1063.7 keV norm","channel":1647,"counts":23},
{"series":"MCA-527 set_D 1.2usst ROI 1063.7 keV norm","channel":1650,"counts":19},
{"series":"MCA-527 set_D 1.2usst ROI 1063.7 keV norm","channel":1653,"counts":21},
{"series":"MCA-527 set_D 1.2usst ROI 1063.7 keV norm","channel":1656,"counts":17},
{"series":"MCA-527 set_D 1.2usst ROI 1063.7 keV norm","channel":1659,"counts":22},
{"series":"MCA-527 set_D 1.2usst ROI 1063.7 keV norm","channel":1662,"counts":30},
{"series":"MCA-527 set_D 1.2usst ROI 1063.7 keV norm","channel":1665,"counts":18},
{"series":"MCA-527 set_D 1.2usst ROI 1063.7 keV norm","channel":1668,"counts":14},
{"series":"MCA-527 set_D 1.2usst ROI 1063.7 keV norm","channel":1671,"counts":20},
{"series":"MCA-527 set_D 1.2usst ROI 1063.7 keV norm","channel":1674,"counts":14},
{"series":"MCA-527 set_D 1.2usst ROI 1063.7 keV norm","channel":1677,"counts":22},
{"series":"MCA-527 set_D 1.2usst ROI 1063.7 keV norm","channel":1680,"counts":19},
{"series":"MCA-527 set_D 1.2usst ROI 1063.7 keV norm","channel":1683,"counts":15},
{"series":"MCA-527 set_D 1.2usst ROI 1063.7 keV norm","channel":1686,"counts":21},
{"series":"MCA-527 set_D 1.2usst ROI 1063.7 keV norm","channel":1689,"counts":20},
{"series":"MCA-527 set_D 1.2usst ROI 1063.7 keV norm","channel":1692,"counts":23},
{"series":"MCA-527 set_D 1.2usst ROI 1063.7 keV norm","channel":1695,"counts":18},
{"series":"MCA-527 set_D 1.2usst ROI 1063.7 keV norm","channel":1698,"counts":15},
{"series":"MCA-527 set_D 1.2usst ROI 1063.7 keV norm","channel":1701,"counts":22},
{"series":"MCA-527 set_D 1.2usst ROI 1063.7 keV norm","channel":1704,"counts":20},
{"series":"MCA-527 set_D 1.2usst ROI 1063.7 keV norm","channel":1707,"counts":24},
{"series":"MCA-527 set_D 1.2usst ROI 1063.7 keV norm","channel":1710,"counts":18},
{"series":"MCA-527 set_D 1.2usst ROI 1063.7 keV norm","channel":1713,"counts":21},
{"series":"MCA-527 set_D 1.2usst ROI 1063.7 keV norm","channel":1716,"counts":19},
{"series":"MCA-527 set_D 1.2usst ROI 1063.7 keV norm","channel":1719,"counts":15},
{"series":"MCA-527 set_D 1.2usst ROI 1063.7 keV norm","channel":1722,"counts":23},
{"series":"MCA-527 set_D 1.2usst ROI 1063.7 keV norm","channel":1725,"counts":20},
{"series":"MCA-527 set_D 1.2usst ROI 1063.7 keV norm","channel":1728,"counts":25},
{"series":"MCA-527 set_D 1.2usst ROI 1063.7 keV norm","channel":1731,"counts":29},
{"series":"MCA-527 set_D 1.2usst ROI 1063.7 keV norm","channel":1734,"counts":15},
{"series":"MCA-527 set_D 1.2usst ROI 1063.7 keV norm","channel":1737,"counts":22},
{"series":"MCA-527 set_D 1.2usst ROI 1063.7 keV norm","channel":1740,"counts":19},
{"series":"MCA-527 set_D 1.2usst ROI 1063.7 keV norm","channel":1743,"counts":21},
{"series":"MCA-527 set_D 1.2usst ROI 1063.7 keV norm","channel":1746,"counts":18},
{"series":"MCA-527 set_D 1.2usst ROI 1063.7 keV norm","channel":1749,"counts":24},
{"series":"MCA-527 set_D 1.2usst ROI 1063.7 keV norm","channel":1752,"counts":15},
{"series":"MCA-527 set_D 1.2usst ROI 1063.7 keV norm","channel":1755,"counts":20},
{"series":"MCA-527 set_D 1.2usst ROI 1063.7 keV norm","channel":1758,"counts":22},
{"series":"MCA-527 set_D 1.2usst ROI 1063.7 keV norm","channel":1761,"counts":17},
{"series":"MCA-527 set_D 1.2usst ROI 1063.7 keV norm","channel":1764,"counts":19},
{"series":"MCA-527 set_D 1.2usst ROI 1063.7 keV norm","channel":1767,"counts":23},
{"series":"MCA-527 set_D 1.2usst ROI 1063.7 keV norm","channel":1770,"counts":27},
{"series":"MCA-527 set_D 1.2usst ROI 1063.7 keV norm","channel":1773,"counts":18},
{"series":"MCA-527 set_D 1.2usst ROI 1063.7 keV norm","channel":1776,"counts":13},
{"series":"MCA-527 set_D 1.2usst ROI 1063.7 keV norm","channel":1779,"counts":20},
{"series":"MCA-527 set_D 1.2usst ROI 1063.7 keV norm","channel":1782,"counts":26},
{"series":"MCA-527 set_D 1.2usst ROI 1063.7 keV norm","channel":1785,"counts":21},
{"series":"MCA-527 set_D 1.2usst ROI 1063.7 keV norm","channel":1788,"counts":17},
{"series":"MCA-527 set_D 1.2usst ROI 1063.7 keV norm","channel":1791,"counts":15},
{"series":"MCA-527 set_D 1.2usst ROI 1063.7 keV norm","channel":1794,"counts":22},
{"series":"MCA-527 set_D 1.2usst ROI 1063.7 keV norm","channel":1797,"counts":20},
{"series":"MCA-527 set_D 1.2usst ROI 1063.7 keV norm","channel":1800,"counts":18},
{"series":"MCA-527 set_D 1.2usst ROI 1063.7 keV norm","channel":1803,"counts":23},
{"series":"MCA-527 set_D 1.2usst ROI 1063.7 keV norm","channel":1806,"counts":19},
{"series":"MCA-527 set_D 1.2usst ROI 1063.7 keV norm","channel":1809,"counts":21},
{"series":"MCA-527 set_D 1.2usst ROI 1063.7 keV norm","channel":1812,"counts":18},
{"series":"MCA-527 set_D 1.2usst ROI 1063.7 keV norm","channel":1815,"counts":22},
{"series":"MCA-527 set_D 1.2usst ROI 1063.7 keV norm","channel":1818,"counts":12.7},
{"series":"MCA-527 set_D 1.2usst ROI 1063.7 keV norm","channel":1821,"counts":20},
{"series":"MCA-527 set_D 1.2usst ROI 1063.7 keV norm","channel":1824,"counts":14},
{"series":"MCA-527 set_D 1.2usst ROI 1063.7 keV norm","channel":1827,"counts":24},
{"series":"MCA-527 set_D 1.2usst ROI 1063.7 keV norm","channel":1830,"counts":19},
{"series":"MCA-527 set_D 1.2usst ROI 1063.7 keV norm","channel":1833,"counts":21},
{"series":"MCA-527 set_D 1.2usst ROI 1063.7 keV norm","channel":1836,"counts":25},
{"series":"MCA-527 set_D 1.2usst ROI 1063.7 keV norm","channel":1839,"counts":20},
{"series":"MCA-527 set_D 1.2usst ROI 1063.7 keV norm","channel":1842,"counts":18},
{"series":"MCA-527 set_D 1.2usst ROI 1063.7 keV norm","channel":1845,"counts":23},
{"series":"MCA-527 set_D 1.2usst ROI 1063.7 keV norm","channel":1848,"counts":19},
{"series":"MCA-527 set_D 1.2usst ROI 1063.7 keV norm","channel":1851,"counts":21},
{"series":"MCA-527 set_D 1.2usst ROI 1063.7 keV norm","channel":1854,"counts":17},
{"series":"MCA-527 set_D 1.2usst ROI 1063.7 keV norm","channel":1857,"counts":22},
{"series":"MCA-527 set_D 1.2usst ROI 1063.7 keV norm","channel":1859,"counts":12},
{"series":"MCA-527 set_D 1.2usst ROI 1063.7 keV norm","channel":1862,"counts":23},
{"series":"MCA-527 set_D 1.2usst ROI 1063.7 keV norm","channel":1865,"counts":19}
  ]
},
"layer": [
  {
    "data": {"values": [{}]},
    "mark": {"type": "rect", "fill": "white", "stroke": null},
    "encoding": {
      "x": {"datum": 1489}, "x2": {"datum": 2008},
      "y": {"datum": 4300}, "y2": {"datum": 560}
    }
  },
  {
    "data": {"name": "spectra"},
    "encoding": {
      "x": {"field": "channel", "type": "quantitative",
        "scale": {"domain": [800, 2000], "nice": false, "zero": false},
        "axis": {"title": "Channels", "grid": true, "values": [800, 1000, 1200, 1400, 1600, 1800, 2000], "format": "d", "domainWidth": 6, "labelPadding": 33, "labelBaseline": "top", "titleBaseline": "alphabetic", "titleY": 127}},
      "y": {"field": "counts", "type": "quantitative",
        "scale": {"type": "log", "domain": [5, 5000], "nice": false},
        "axis": {"title": "Counts, channel", "grid": true, "values": [5, 50, 500, 5000], "format": "d", "domainWidth": 4.5, "labelPadding": 41, "titleBaseline": "alphabetic", "titleX": -133, "titleY": 475, "titleAngle": -90}},
      "color": {"field": "series", "type": "nominal",
        "scale": {"domain": ["Analogue 2usst ROI 1063.7 keV", "MCA-527 set_D 1.2usst ROI 1063.7 keV norm"], "range": ["#4A7EBB", "#BE4B48"]},
        "legend": {"title": null, "orient": "none", "legendX": 1006, "legendY": 46,
          "symbolType": "M-1,0H1M-0.11,-0.11H0.11V0.11H-0.11Z", "symbolSize": 3025, "symbolStrokeWidth": 2, "symbolOpacity": 1,
          "labelFontSize": 44, "labelFont": "Liberation Sans", "labelColor": "black", "labelLimit": 1000, "labelOffset": 7,
          "rowPadding": 84,
          "labelExpr": "datum.label == 'MCA-527 set_D 1.2usst ROI 1063.7 keV norm' ? ['MCA-527 set_D 1.2usst ROI', '1063.7 keV norm'] : datum.label",
          "encode": {
            "symbols": {"update": {"fill": {"scale": "color", "field": "value"}, "stroke": {"scale": "color", "field": "value"}}},
            "labels": {"update": {"lineHeight": {"value": 51}}}
          }}
      }
    },
    "layer": [
      {"mark": {"type": "line", "strokeWidth": 1.6}},
      {"transform": [{"filter": "datum.series == 'Analogue 2usst ROI 1063.7 keV'"}],
       "mark": {"type": "point", "shape": "M0,-1V1M-0.4,-1H0.4M-0.4,1H0.4M-0.35,0L0,-0.35L0.35,0L0,0.35Z", "size": 260, "filled": true, "stroke": "#4A7EBB", "strokeWidth": 1.2, "opacity": 1}},
      {"transform": [{"filter": "datum.series == 'MCA-527 set_D 1.2usst ROI 1063.7 keV norm'"}],
       "mark": {"type": "point", "shape": "square", "size": 40, "filled": true, "opacity": 1}}
    ]
  },
  {
    "data": {"values": [{}]},
    "mark": {"type": "rect", "fill": null, "stroke": "#C00000", "strokeWidth": 4.5},
    "encoding": {
      "x": {"datum": 1491}, "x2": {"datum": 1970},
      "y": {"datum": 1500}, "y2": {"datum": 610}
    }
  },
  {
    "data": {"values": [{}]},
    "mark": {"type": "rule", "stroke": "#22A022", "strokeWidth": 5},
    "encoding": {
      "x": {"datum": 1355}, "y": {"datum": 1030},
      "x2": {"datum": 1448}, "y2": {"datum": 1960}
    }
  },
  {
    "data": {"values": [{}]},
    "mark": {"type": "point", "shape": "M0,0L-0.55,1.15L0.55,1.15Z", "size": 900, "filled": true, "color": "#22A022", "opacity": 1, "angle": 54.5},
    "encoding": {"x": {"datum": 1454}, "y": {"datum": 2110}}
  },
  {
    "data": {"values": [{}]},
    "mark": {"type": "text", "text": "1063 keV", "fontSize": 56, "font": "Liberation Sans", "color": "#22A022", "align": "left", "baseline": "middle"},
    "encoding": {"x": {"datum": 1181}, "y": {"datum": 916}}
  },
  {
    "data": {"values": [{}]},
    "mark": {"type": "point", "shape": "M0,0L-0.45,1L0.45,1Z", "size": 2116, "filled": true, "color": "black", "opacity": 1},
    "encoding": {"x": {"datum": 800}, "y": {"datum": 5000}}
  },
  {
    "data": {"values": [{}]},
    "mark": {"type": "point", "shape": "M0,0L-1,-0.45L-1,0.45Z", "size": 2116, "filled": true, "color": "black", "opacity": 1},
    "encoding": {"x": {"datum": 2000}, "y": {"datum": 5}}
  }
]
}
